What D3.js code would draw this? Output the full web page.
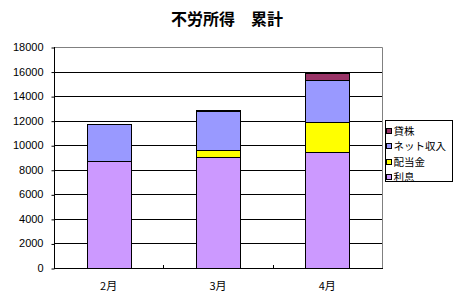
<!DOCTYPE html>
<html>
<head>
<meta charset="utf-8">
<script src="https://cdn.jsdelivr.net/npm/d3@7"></script>
<style>
	body { margin: 0; background: #fff; }
	svg { display: block; font-family: "Liberation Sans", "Noto Sans CJK JP", sans-serif; }
	.title { font-family: "Noto Sans CJK JP", sans-serif; font-weight: bold; font-size: 16px; }
	.axis text { font-size: 11px; fill: #000; }
	.legend text { font-family: "Noto Sans CJK JP", sans-serif; font-size: 10.5px; }
</style>
</head>
<body>
<div id="chart"></div>
<script>
// data
let months = ["2月", "3月", "4月"];
let interest = [8700, 9050, 9450];   // 利息
let dividend = [0, 550, 2450];       // 配当金
let netIncome = [3000, 3200, 3450];  // ネット収入
let lending = [0, 100, 550];         // 貸株
let seriesNames = ["利息", "配当金", "ネット収入", "貸株"];
let yTicks = [0, 2000, 4000, 6000, 8000, 10000, 12000, 14000, 16000, 18000];

let colors = ["#cc99ff", "#ffff00", "#9999ff", "#993366"];

let width = 455, height = 301;
let margin = {top: 47, right: 73, bottom: 33, left: 54};
let plotW = width - margin.left - margin.right;
let plotH = height - margin.top - margin.bottom;

let svg = d3.select("#chart").append("svg")
	.attr("width", width)
	.attr("height", height);

svg.append("text")
	.attr("class", "title")
	.attr("x", 227)
	.attr("y", 25)
	.attr("text-anchor", "middle")
	.text("不労所得　累計");

let g = svg.append("g")
	.attr("transform", `translate(${margin.left}, ${margin.top})`);

// build table for the stack
let table = months.map((m, i) => ({
	month: m,
	"利息": interest[i],
	"配当金": dividend[i],
	"ネット収入": netIncome[i],
	"貸株": lending[i]
}));
let stackData = d3.stack().keys(seriesNames)(table);

let x = d3.scaleBand()
	.domain(months)
	.range([0, plotW])
	.paddingInner(0.6)
	.paddingOuter(0.3);
let y = d3.scaleLinear()
	.domain([0, 18000])
	.range([plotH, 0]);
let color = d3.scaleOrdinal().domain(seriesNames).range(colors);

// gridlines
g.append("g")
	.selectAll("line")
	.data(yTicks.filter(t => t > 0 && t < 18000))
	.enter().append("line")
	.attr("x1", 0)
	.attr("x2", plotW)
	.attr("y1", d => Math.round(y(d)) + 0.5)
	.attr("y2", d => Math.round(y(d)) + 0.5)
	.attr("stroke", "#000");

// plot border top/right in gray
g.append("path")
	.attr("d", `M0.5,${Math.round(y(18000)) + 0.5}H${plotW + 0.5}V${plotH + 0.5}`)
	.attr("fill", "none")
	.attr("stroke", "#808080");

// bars
stackData.forEach((layer, i) => {
	g.selectAll(".bar-" + i)
		.data(layer)
		.enter().append("rect")
		.attr("class", "bar-" + i)
		.attr("x", d => Math.round(x(d.data.month)) + 0.5)
		.attr("y", d => Math.round(y(d[1])) + 0.5)
		.attr("width", Math.round(x.bandwidth()))
		.attr("height", d => Math.round(y(d[0])) - Math.round(y(d[1])))
		.attr("fill", color(layer.key))
		.attr("stroke", "#000")
		.attr("stroke-width", 1);
});

// y axis
let yAxis = d3.axisLeft(y).tickValues(yTicks).tickSize(3).tickPadding(8).tickFormat(d3.format("d"));
g.append("g")
	.attr("class", "axis y-axis")
	.attr("transform", "translate(0.5,0)")
	.call(yAxis)
	.call(s => s.selectAll("line").attr("transform", "translate(0,0.5)"))
	.call(s => s.select(".domain").attr("d", `M0,${plotH + 0.5}V${Math.round(y(18000))}`));

// x axis: line, small inward ticks between categories, labels
let xg = g.append("g").attr("class", "axis x-axis");
xg.append("line")
	.attr("x1", 0).attr("x2", plotW + 1)
	.attr("y1", plotH + 0.5).attr("y2", plotH + 0.5)
	.attr("stroke", "#000");
let boundary = d => Math.round(x(d) - (x.step() - x.bandwidth()) / 2) + 0.5;
xg.selectAll(".xtick")
	.data(months.slice(1))
	.enter().append("line")
	.attr("class", "xtick")
	.attr("x1", boundary)
	.attr("x2", boundary)
	.attr("y1", plotH)
	.attr("y2", plotH - 3)
	.attr("stroke", "#000");
xg.selectAll(".xlabel")
	.data(months)
	.enter().append("text")
	.attr("class", "xlabel")
	.attr("x", d => x(d) + x.bandwidth() / 2)
	.attr("y", plotH + 22)
	.attr("text-anchor", "middle")
	.style("font-family", "'Noto Sans CJK JP', sans-serif")
	.text(d => d);

// legend, top series first
let legend = svg.append("g")
	.attr("class", "legend")
	.attr("transform", "translate(385.5, 120.5)");
legend.append("rect")
	.attr("width", 67)
	.attr("height", 61)
	.attr("fill", "#fff")
	.attr("stroke", "#000");
let legendItems = seriesNames.slice().reverse();
legendItems.forEach((name, i) => {
	let yy = 11 + i * 15.3;
	legend.append("rect")
		.attr("x", 1)
		.attr("y", Math.round(yy - 3))
		.attr("width", 5)
		.attr("height", 5)
		.attr("fill", color(name))
		.attr("stroke", "#000");
	legend.append("text")
		.attr("x", 8)
		.attr("y", yy)
		.attr("dy", "0.35em")
		.text(name);
});
</script>
</body>
</html>
